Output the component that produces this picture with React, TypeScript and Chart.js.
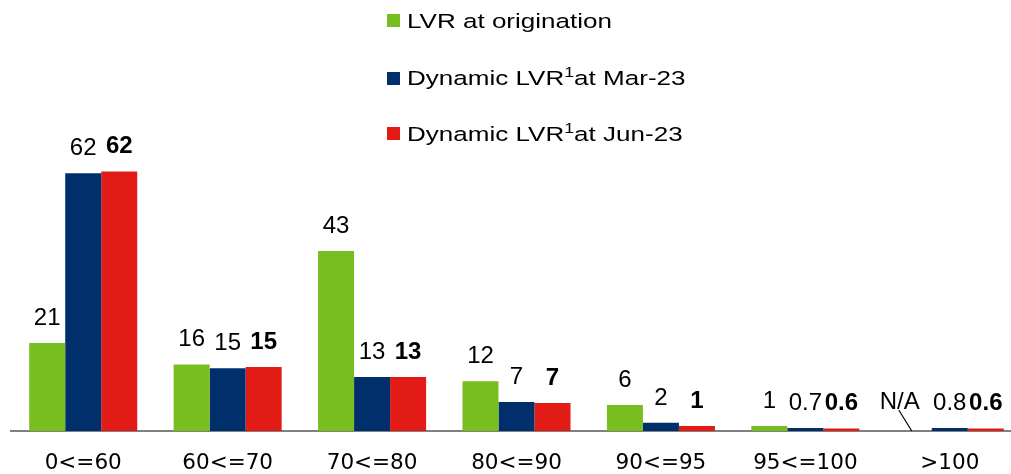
import React, { useEffect, useRef } from "react";
import { Chart, registerables } from "chart.js";

Chart.register(...registerables);

const categories = ["0<=60", "60<=70", "70<=80", "80<=90", "90<=95", "95<=100", ">100"];
const origination: (number | null)[] = [21, 15.9, 43, 11.9, 6.2, 1.2, null];
const mar23: number[] = [61.6, 15.0, 12.9, 6.9, 2.0, 0.7, 0.7];
const jun23: number[] = [62.0, 15.3, 12.9, 6.7, 1.2, 0.6, 0.6];
const originationLabels = ["21", "16", "43", "12", "6", "1", "N/A"];
const mar23Labels = ["62", "15", "13", "7", "2", "0.7", "0.8"];
const jun23Labels = ["62", "15", "13", "7", "1", "0.6", "0.6"];

const GREEN = "#78BE20";
const NAVY = "#002F6C";
const RED = "#E31B17";

const valueLabelPlugin = {
  id: "valueLabels",
  afterDatasetsDraw(chart: any) {
    const ctx = chart.ctx;
    const allLabels = [originationLabels, mar23Labels, jun23Labels];
    const base = chart.scales.y.getPixelForValue(0);
    ctx.save();
    ctx.fillStyle = "#000";
    ctx.textAlign = "center";
    ctx.textBaseline = "alphabetic";
    chart.data.datasets.forEach((ds: any, i: number) => {
      const meta = chart.getDatasetMeta(i);
      const bold = i === 2;
      ctx.font = `${bold ? "bold " : ""}24px "Liberation Sans", Arial, sans-serif`;
      meta.data.forEach((bar: any, j: number) => {
        const v = ds.data[j];
        const label = allLabels[i][j];
        if (v === null || v === undefined) {
          let x = bar.x;
          if (!isFinite(x)) {
            const nb = chart.getDatasetMeta(1).data[j];
            x = nb.x - nb.width;
          }
          ctx.font = `24px "Liberation Sans", Arial, sans-serif`;
          ctx.fillText(label, x - 14, base - 22);
          ctx.strokeStyle = "#000";
          ctx.lineWidth = 1.2;
          ctx.beginPath();
          ctx.moveTo(x - 15, base - 21);
          ctx.lineTo(x - 2, base);
          ctx.stroke();
          return;
        }
        ctx.fillText(label, bar.x, bar.y - 18);
      });
    });
    ctx.restore();
  },
};

const legendItems = [
  { color: GREEN, top: 10.5, sq: 14, main: "LVR at origination", sup: "", rest: "" },
  { color: NAVY, top: 67.5, sq: 71.5, main: "Dynamic LVR", sup: "1", rest: "at Mar-23" },
  { color: RED, top: 123.5, sq: 127, main: "Dynamic LVR", sup: "1", rest: "at Jun-23" },
];

export default function App() {
  const canvasRef = useRef<HTMLCanvasElement | null>(null);

  useEffect(() => {
    document.body.style.overflow = "hidden";
    const canvas = canvasRef.current;
    if (!canvas) return;
    const chart = new Chart(canvas, {
      type: "bar",
      data: {
        labels: categories,
        datasets: [
          { label: "LVR at origination", data: origination, backgroundColor: GREEN },
          { label: "Dynamic LVR1 at Mar-23", data: mar23, backgroundColor: NAVY },
          { label: "Dynamic LVR1 at Jun-23", data: jun23, backgroundColor: RED },
        ],
      },
      options: {
        responsive: false,
        animation: false,
        layout: { padding: { left: 11, right: 8, top: 138, bottom: 0 } },
        plugins: { legend: { display: false }, tooltip: { enabled: false } },
        datasets: { bar: { categoryPercentage: 0.748, barPercentage: 1 } },
        scales: {
          x: {
            grid: { display: false, drawTicks: false },
            border: { display: true, color: "#808080", width: 2 },
            ticks: {
              color: "#000",
              font: { family: '"DejaVu Sans", sans-serif', size: 21.5 },
              padding: 20,
              maxRotation: 0,
              autoSkip: false,
            },
            afterFit: (s: any) => {
              s.height = 43;
            },
          },
          y: { display: false, min: 0, max: 70 },
        },
      } as any,
      plugins: [valueLabelPlugin],
    });
    return () => chart.destroy();
  }, []);

  return (
    <div
      style={{
        position: "fixed",
        left: 0,
        top: 0,
        width: 1011,
        height: 474,
        overflow: "hidden",
        background: "#fff",
      }}
    >
      <canvas ref={canvasRef} width={1030} height={474} style={{ position: "absolute", left: 0, top: 0 }} />
      {legendItems.map((it, k) => (
        <React.Fragment key={k}>
          <div
            style={{
              position: "absolute",
              left: 387,
              top: it.sq,
              width: 13,
              height: 13,
              background: it.color,
            }}
          />
          <div
            style={{
              position: "absolute",
              left: 407,
              top: it.top,
              fontFamily: '"Liberation Sans", Arial, sans-serif',
              fontSize: "20.5px",
              lineHeight: "20.5px",
              whiteSpace: "nowrap",
              color: "#000",
              transform: "scaleX(1.27)",
              transformOrigin: "left center",
            }}
          >
            {it.main}
            {it.sup ? (
              <span style={{ fontSize: "14px", position: "relative", top: "-8px" }}>{it.sup}</span>
            ) : null}
            {it.rest}
          </div>
        </React.Fragment>
      ))}
    </div>
  );
}
